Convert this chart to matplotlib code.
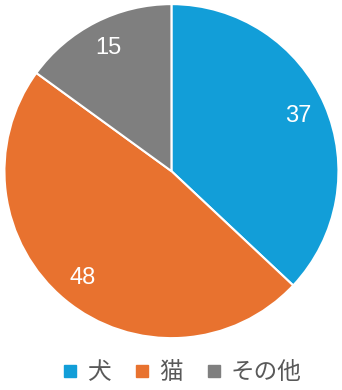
import matplotlib.pyplot as plt
from matplotlib.lines import Line2D

plt.rcParams['font.family'] = ['Noto Sans CJK JP', 'DejaVu Sans']

labels = ['犬', '猫', 'その他']
values = [37, 48, 15]
colors = ['#129ed8', '#e8722f', '#7f7f7f']

fig = plt.figure(figsize=(3.42, 3.90), dpi=100)
ax = fig.add_axes([0.013, 0.133, 334 / 342, 334 / 390])

wedges, texts = ax.pie(values, colors=colors, startangle=90, counterclock=False,
                       labels=[str(v) for v in values], labeldistance=0.83,
                       wedgeprops=dict(edgecolor='white', linewidth=1.5))
for t in texts:
    t.set_color('white')
    t.set_fontsize(17)
    t.set_family('Liberation Sans')
    t.set_ha('center')
    t.set_va('center')
ax.set_xlim(-1.0, 1.0)
ax.set_ylim(-1.0, 1.0)
ax.set_aspect('equal')

handles = [Line2D([], [], marker='s', linestyle='none', markersize=8,
                  markerfacecolor=c, markeredgecolor=c) for c in colors]
fig.legend(handles, labels, loc='center', bbox_to_anchor=(0.528, 0.044), ncol=3,
           frameon=False, fontsize=17, labelcolor='#595959',
           handletextpad=0.25, columnspacing=0.9, handlelength=0.9)

fig.savefig('out.png', dpi=100)
